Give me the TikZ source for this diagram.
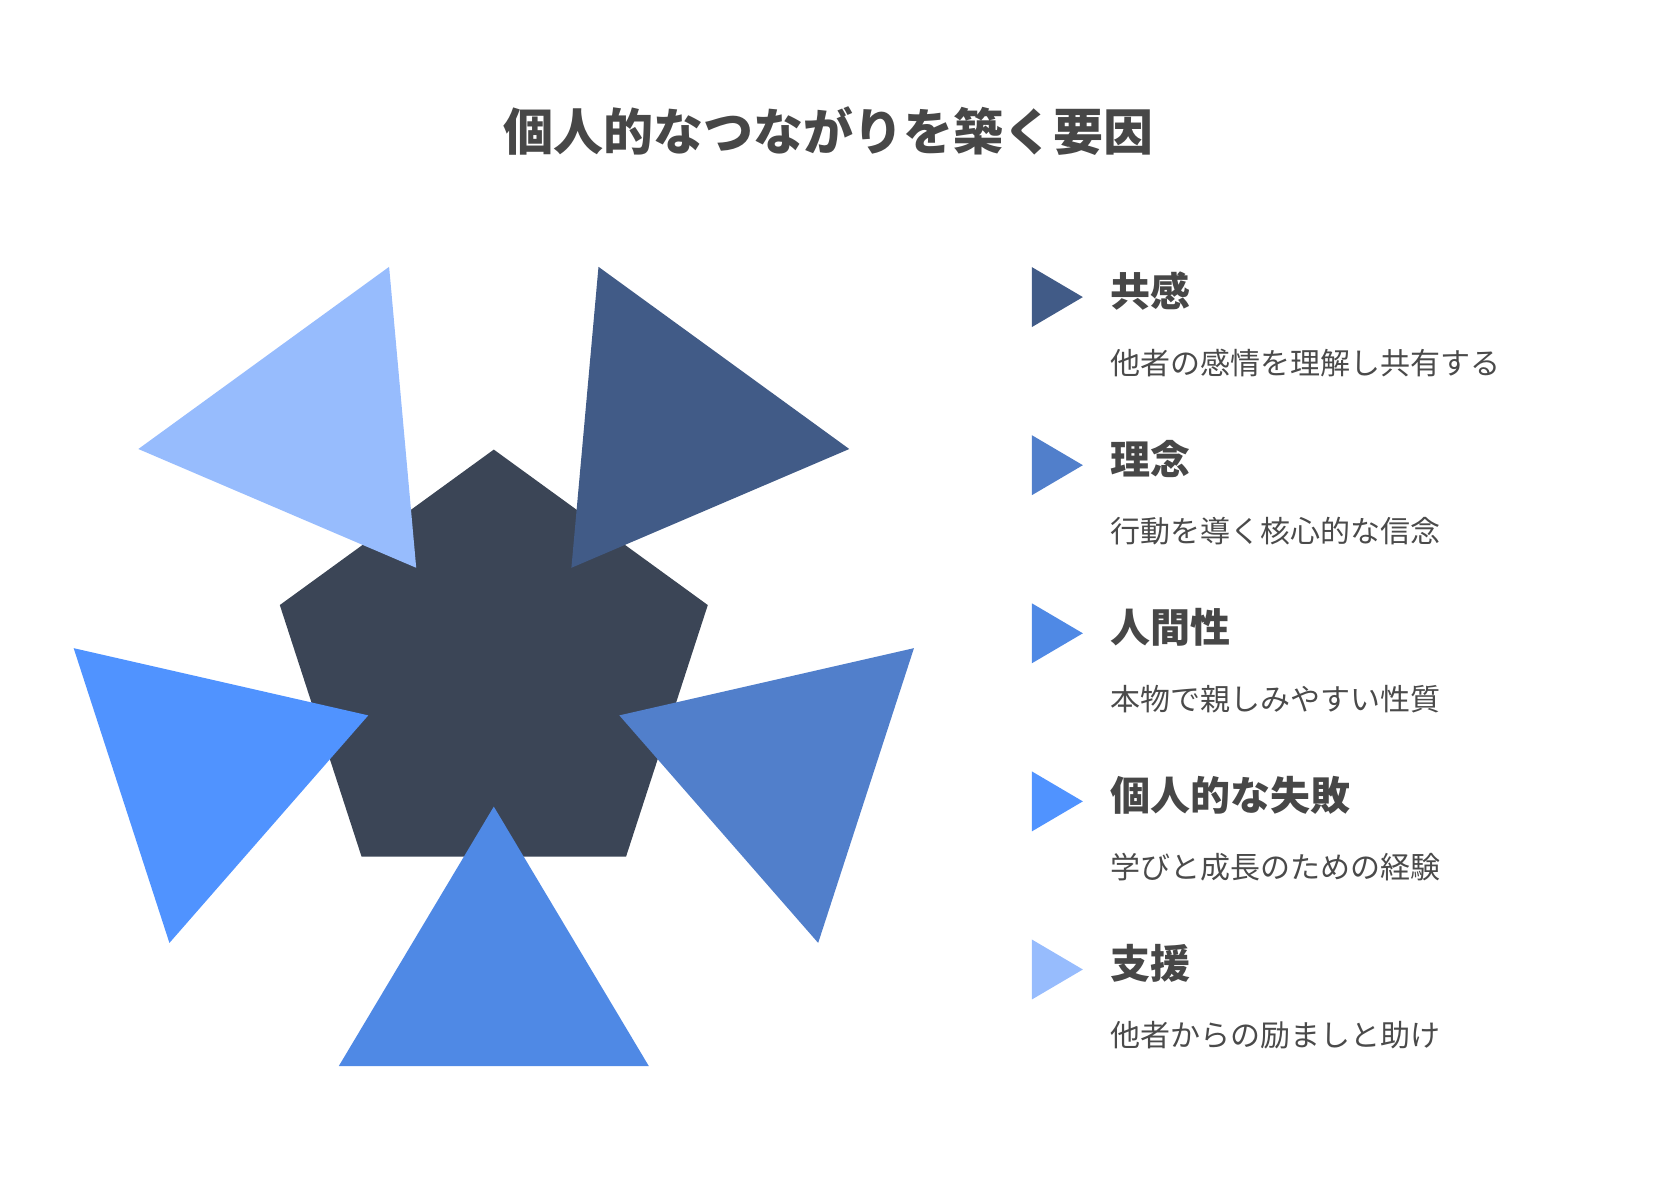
\documentclass[tikz,border=0pt]{standalone}
\usepackage{fontspec}
\setmainfont{Noto Sans CJK JP}
\usetikzlibrary{positioning,shapes.geometric}

\definecolor{coregray}{HTML}{3B4556}
\definecolor{empathy}{HTML}{415B87}
\definecolor{ideal}{HTML}{517FCB}
\definecolor{human}{HTML}{4F89E5}
\definecolor{failure}{HTML}{5093FF}
\definecolor{support}{HTML}{97BCFD}
\definecolor{textgray}{HTML}{474747}
\definecolor{descgray}{HTML}{4A4A4A}

\begin{document}
\begin{tikzpicture}[x=0.5pt,y=0.5pt,node distance=84.05pt,on grid,
  marker/.style={isosceles triangle,isosceles triangle stretches,minimum width=30pt,minimum height=25.5pt,inner sep=0pt,outer sep=0pt},
  head/.style={inner sep=0pt,font=\bfseries\fontsize{20}{24}\selectfont,text=textgray},
  desc/.style={inner sep=0pt,font=\fontsize{15}{18}\selectfont,text=descgray}]
\useasboundingbox (0,0) rectangle (1658,1187);

\node[font=\bfseries\fontsize{25}{30}\selectfont,text=textgray] (title) at (828,1056) {個人的なつながりを築く要因};

% pentagon and the five triangles
\node[regular polygon,regular polygon sides=5,minimum size=225pt,inner sep=0pt,fill=coregray] (core) at (493.8,512.4) {};
\foreach \a/\c in {54/empathy,-18/ideal,-90/human,-162/failure,126/support}
  \fill[\c,shift={(core.center)}] (\a:132) -- (\a+21.6:421) -- (\a-21.6:421) -- cycle;

% legend
\node[marker,fill=empathy] (m1) at (1049,889.9) {};
\node[marker,fill=ideal] (m2) [below=of m1] {};
\node[marker,fill=human] (m3) [below=of m2] {};
\node[marker,fill=failure] (m4) [below=of m3] {};
\node[marker,fill=support] (m5) [below=of m4] {};

\node[head] (h1) [above right=3pt and 30.5pt of m1,anchor=west] {共感};
\node[desc] (d1) [below right=33pt and 30.5pt of m1,anchor=west] {他者の感情を理解し共有する};
\node[head] (h2) [above right=3pt and 30.5pt of m2,anchor=west] {理念};
\node[desc] (d2) [below right=33pt and 30.5pt of m2,anchor=west] {行動を導く核心的な信念};
\node[head] (h3) [above right=3pt and 30.5pt of m3,anchor=west] {人間性};
\node[desc] (d3) [below right=33pt and 30.5pt of m3,anchor=west] {本物で親しみやすい性質};
\node[head] (h4) [above right=3pt and 30.5pt of m4,anchor=west] {個人的な失敗};
\node[desc] (d4) [below right=33pt and 30.5pt of m4,anchor=west] {学びと成長のための経験};
\node[head] (h5) [above right=3pt and 30.5pt of m5,anchor=west] {支援};
\node[desc] (d5) [below right=33pt and 30.5pt of m5,anchor=west] {他者からの励ましと助け};
\end{tikzpicture}
\end{document}
